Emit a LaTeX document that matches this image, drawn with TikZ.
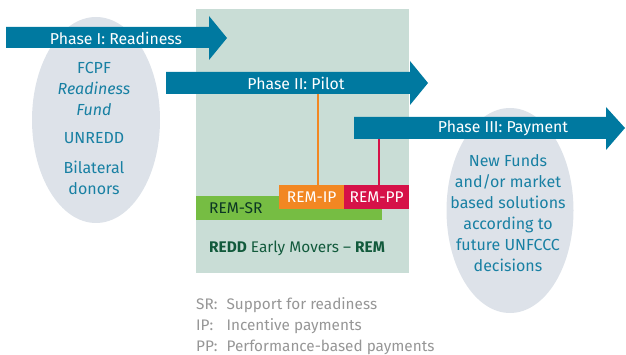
\documentclass[tikz,border=0pt]{standalone}
\usepackage{fontspec}
\setmainfont{Fira Sans}
\usetikzlibrary{shapes.geometric}
\definecolor{remback}{RGB}{201,221,214}
\definecolor{fundgrey}{RGB}{221,226,233}
\definecolor{phaseblue}{RGB}{0,121,160}
\definecolor{fundblue}{RGB}{24,128,163}
\definecolor{iporange}{RGB}{242,135,34}
\definecolor{ppred}{RGB}{214,17,72}
\definecolor{srgreen}{RGB}{118,189,67}
\definecolor{remgreen}{RGB}{18,90,60}
\definecolor{legendgrey}{RGB}{150,150,150}
\tikzset{
  phase/.style     = {fill=phaseblue},
  phasetext/.style = {text=white, inner sep=0pt,
                      font=\fontsize{15.8}{18}\selectfont},
  funds/.style     = {ellipse, fill=fundgrey, inner sep=0pt},
  fundtext/.style  = {text=fundblue, align=center, inner sep=0pt,
                      font=\fontsize{16}{21}\selectfont},
  rembox/.style    = {minimum height=24, inner sep=0pt, text=white,
                      font=\fontsize{15.5}{18}\selectfont},
  legend/.style    = {text=legendgrey, inner sep=0pt, align=left,
                      font=\fontsize{15.3}{21}\selectfont}
}

\begin{document}
\begin{tikzpicture}[x=1pt, y=-1pt]
  \useasboundingbox (0,0) rectangle (626,355);
  % background of the early movers programme
  \fill[remback] (196,9) rectangle (409,273);
  \node[funds, minimum width=128, minimum height=206] (fund1) at (96,120) {};
  \node[funds, minimum width=127, minimum height=205] (fund3) at (510,210.5) {};
  % phase arrows
  \fill[phase] (6,27) -- (209,27) -- (209,16) -- (227,38) -- (209,60)
    -- (209,48) -- (6,48) -- cycle;
  \node[phasetext] (p1) at (116,38) {Phase I: Readiness};
  \fill[phase] (166,72) -- (410,72) -- (410,61) -- (428,83) -- (410,105)
    -- (410,94) -- (166,94) -- cycle;
  \coordinate (p2b) at (300,94);
  \node[phasetext] (p2) at (296,83) {Phase II: Pilot};
  \fill[phase] (354,117) -- (606,117) -- (606,107) -- (625,128) -- (606,150)
    -- (606,139) -- (354,139) -- cycle;
  \coordinate (p3b) at (480,139);
  \node[phasetext] (p3) at (503,128) {Phase III: Payment};
  % funding sources
  \node[fundtext] (src1) at (94,128.5)
    {FCPF\\\textit{Readiness}\\\textit{Fund}\\[7pt]UNREDD\\[9pt]Bilateral\\donors};
  \node[fundtext] (src3) at (508,213)
    {New Funds\\and/or market\\based solutions\\according to\\future UNFCCC\\decisions};
  % REM components
  \node[rembox, fill=srgreen, text width=160pt, inner xsep=13pt, align=left,
        text=remgreen!60!black, anchor=north west] (sr) at (196,196) {REM-SR};
  \node[rembox, fill=iporange, minimum width=65, anchor=north west] (ip) at (279,185) {REM-IP};
  \node[rembox, fill=ppred, minimum width=65, anchor=north west] (pp) at (344,185) {REM-PP};
  \draw[iporange, line width=2pt] (ip.north) ++(6.5,0) coordinate (ipn) -- (ipn |- p2b);
  \draw[ppred, line width=2pt] (pp.north) ++(2.5,0) coordinate (ppn) -- (ppn |- p3b);
  \node[text=remgreen, anchor=west, inner sep=0pt,
        font=\fontsize{15.4}{18}\selectfont] (rem) at (209,248)
    {\textbf{REDD} Early Movers -- \textbf{REM}};
  % legend
  \node[legend, anchor=north west] (key) at (196,295)
    {\begin{tabular}{@{}l@{\hspace{9pt}}l@{}}
       SR: & Support for readiness\\
       IP: & Incentive payments\\
       PP: & Performance-based payments
     \end{tabular}};
\end{tikzpicture}
\end{document}
